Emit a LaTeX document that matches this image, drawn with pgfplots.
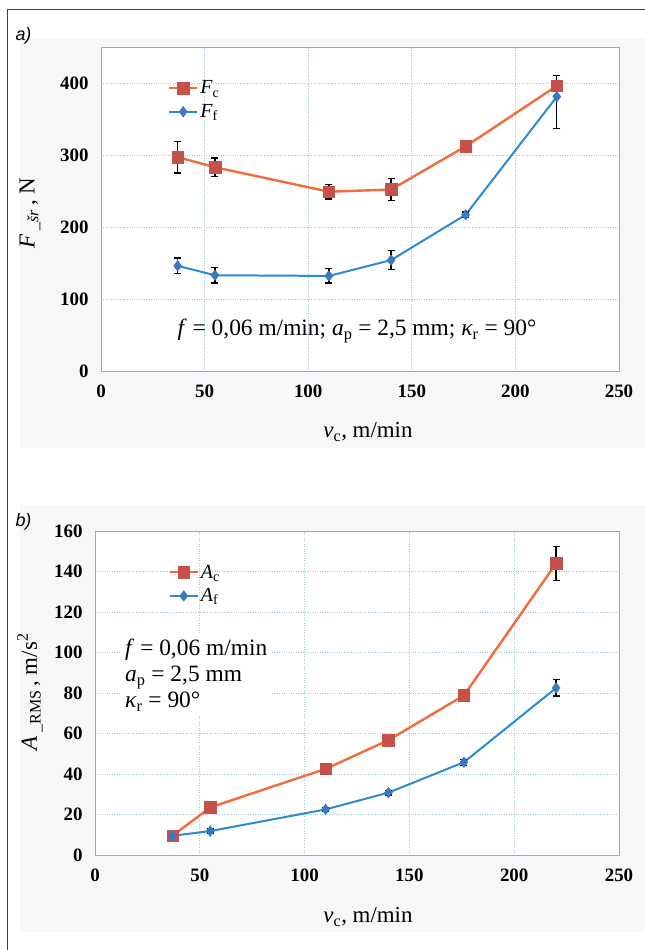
\documentclass[border=0pt]{standalone}
\usepackage{fontspec}
\setmainfont{Liberation Serif}
\setsansfont{Liberation Sans}
\usepackage{pgfplots}
\pgfplotsset{compat=1.18}
\definecolor{cline}{HTML}{F26B3A}
\definecolor{cmark}{HTML}{C8504A}
\definecolor{fline}{HTML}{2A8AD4}
\definecolor{fmark}{HTML}{3C78C0}
\definecolor{gridc}{HTML}{A3C6E2}
\definecolor{boxc}{HTML}{A6A6A6}
\definecolor{bgc}{HTML}{F6F7F9}
\pgfplotsset{
  mystyle/.style={
    scale only axis,
    anchor=south west,
    xmin=0, xmax=250,
    xtick={0,50,...,250},
    grid=major,
    grid style={gridc, dotted, line width=0.9pt},
    axis line style={boxc, line width=0.9pt},
    axis background/.style={fill=white},
    tick style={draw=none},
    /pgf/number format/assume math mode=true,
    ticklabel style={font=\fontsize{19}{19}\selectfont\bfseries},
    xticklabel style={yshift=-10bp},
    yticklabel style={xshift=-9bp},
    legend cell align=left,
    legend style={draw=none, fill=none, anchor=north west, inner sep=0pt,
      font=\fontsize{20}{20}\selectfont, row sep=5bp},
    legend image code/.code={\draw[mark repeat=2,mark phase=2,##1] plot coordinates {(0bp,0bp) (14bp,0bp) (28bp,0bp)};},
    error bars/y dir=both,
    error bars/y explicit,
    error bars/error bar style={black, line width=1.3pt},
    error bars/error mark options={black, line width=1.3pt, mark size=3.5bp, rotate=90},
  },
  cser/.style={color=cline, line width=2.4pt, mark=square*, mark size=5.8bp,
    mark options={fill=cmark, draw=cmark, line width=0.5pt}},
  fser/.style={color=fline, line width=2pt, mark=diamond*, mark size=5.3bp,
    mark options={fill=fmark, draw=fmark, line width=0.5pt}},
}
\begin{document}
\begin{tikzpicture}
\begin{scope}[x=1bp,y=1bp]
\useasboundingbox (0,0) rectangle (645,950);
\fill[bgc] (20,502) rectangle (645,912);
\fill[bgc] (20,18) rectangle (645,445);
\draw[black!75, line width=1bp] (7,0) -- (7,940) -- (645,940);
\node[font=\sffamily\itshape\fontsize{18}{18}\selectfont, anchor=west] at (12,914) {a)};
\node[font=\sffamily\itshape\fontsize{18}{18}\selectfont, anchor=west] at (12,428) {b)};
\end{scope}

% Panel a
\begin{axis}[mystyle, at={(101bp,579bp)}, width=518bp, height=324bp,
  ymin=0, ymax=450, ytick={0,100,...,400},
  legend style={at={(0.129,0.902)}}]
\addplot[cser] coordinates {
  (37,297) +- (0,22)
  (55,283) +- (0,13)
  (110,249) +- (0,10)
  (140,252) +- (0,15)
  (176,312) +- (0,3)
  (220,396) +- (0,14)
};
\addlegendentry{\textit{F}\textsubscript{c}}
\addplot[fser] coordinates {
  (37,146) +- (0,11)
  (55,133) +- (0,11)
  (110,132) +- (0,10)
  (140,154) +- (0,13)
  (176,217) +- (0,4)
  (220,381) += (0,0) -= (0,44)
};
\addlegendentry{\textit{F}\textsubscript{f}}
\end{axis}

% Panel b
\begin{axis}[mystyle, at={(95bp,95bp)}, width=524bp, height=324bp,
  ymin=0, ymax=160, ytick={0,20,...,160},
  legend style={at={(0.140,0.902)}}]
\addplot[cser] coordinates {
  (37,9.5) +- (0,1)
  (55,23.5) +- (0,1.5)
  (110,42.5) +- (0,1.5)
  (140,56.7) +- (0,1.5)
  (176,78.8) +- (0,3)
  (220,144) +- (0,8.5)
};
\addlegendentry{\textit{A}\textsubscript{c}}
\addplot[fser] coordinates {
  (37,9.5) +- (0,1)
  (55,11.8) +- (0,1)
  (110,22.5) +- (0,1)
  (140,30.8) +- (0,1.2)
  (176,45.8) +- (0,1.5)
  (220,82.5) +- (0,4)
};
\addlegendentry{\textit{A}\textsubscript{f}}
\end{axis}

\begin{scope}[x=1bp,y=1bp]
\node[font=\fontsize{23.5}{23.5}\selectfont] at (357,619)
  {\textit{f} = 0,06 m/min; \textit{a}\textsubscript{p} = 2,5 mm; \textit{κ}\textsubscript{r} = 90°};
\node[font=\fontsize{23}{23}\selectfont] at (368,518) {\textit{v}\textsubscript{c}, m/min};
\node[font=\fontsize{23}{23}\selectfont, rotate=90] at (30,737) {\textit{F}\,\textsubscript{\textit{\_šr}}\,, N};
\node[fill=white, anchor=north west, align=left, inner sep=5bp,
  font=\fontsize{23.5}{26}\selectfont] at (120,316)
  {\textit{f} = 0,06 m/min\\ \textit{a}\textsubscript{p} = 2,5 mm\\ \textit{κ}\textsubscript{r} = 90°};
\node[font=\fontsize{23}{23}\selectfont] at (368,33) {\textit{v}\textsubscript{c}, m/min};
\node[font=\fontsize{23}{23}\selectfont, rotate=90] at (30,258) {\textit{A}\,\textsubscript{\_RMS}\,, m/s\textsuperscript{2}};
\end{scope}
\end{tikzpicture}
\end{document}
